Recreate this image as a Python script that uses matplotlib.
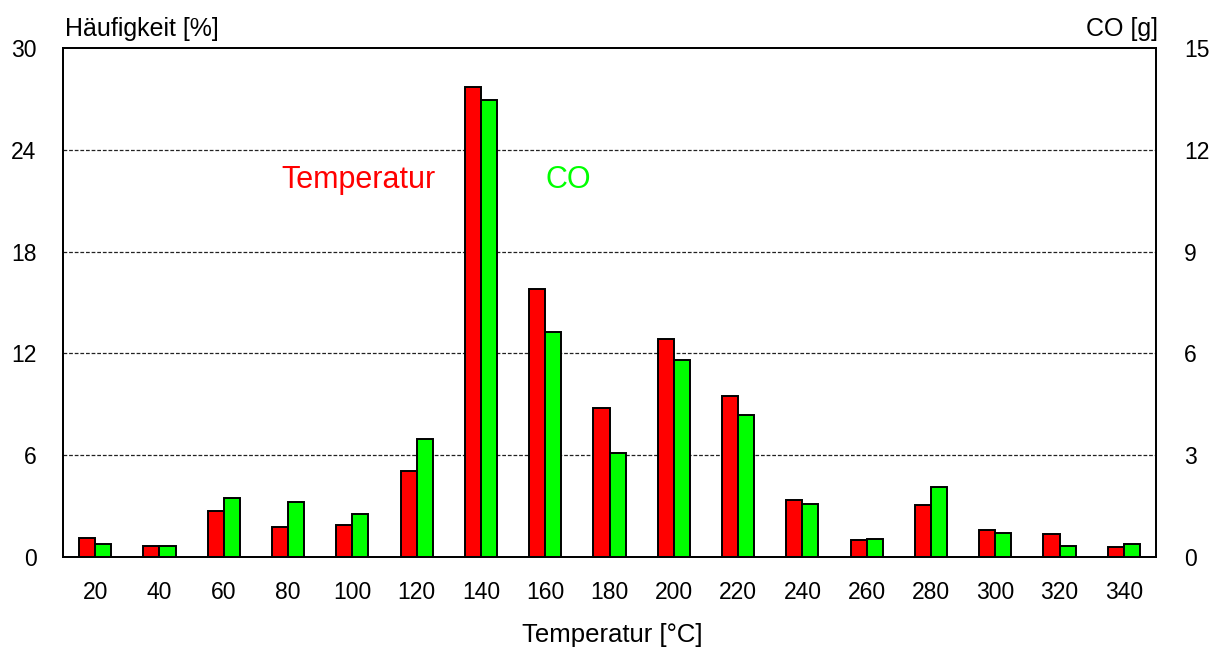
import matplotlib
matplotlib.use("Agg")
import matplotlib.pyplot as plt
import numpy as np

plt.rcParams['font.family'] = ['Liberation Sans', 'DejaVu Sans']

categories = ["20", "40", "60", "80", "100", "120", "140", "160", "180",
              "200", "220", "240", "260", "280", "300", "320", "340"]
haeufigkeit = [1.12, 0.67, 2.73, 1.79, 1.9, 5.09, 27.7, 15.8, 8.8,
               12.85, 9.49, 3.38, 1.0, 3.05, 1.57, 1.37, 0.59]
co_g = [0.39, 0.33, 1.73, 1.62, 1.28, 3.48, 13.46, 6.63, 3.06,
        5.8, 4.19, 1.55, 0.53, 2.05, 0.71, 0.33, 0.39]

fig = plt.figure(figsize=(12.21, 6.48), dpi=100)
ax = fig.add_axes([63/1221, 1-557/648, (1156-63)/1221, (557-48)/648])
ax2 = ax.twinx()

x = np.arange(len(categories))
w = 0.25
ax.bar(x - w/2, haeufigkeit, width=w, color='#ff0000', edgecolor='black', linewidth=1.4, zorder=3)
ax2.bar(x + w/2, co_g, width=w, color='#00ff00', edgecolor='black', linewidth=1.4, zorder=3)

ax.set_xlim(-0.5, len(categories) - 0.5)
ax.set_ylim(0, 30)
ax2.set_ylim(0, 15)
ax.set_yticks([0, 6, 12, 18, 24, 30])
ax2.set_yticks([0, 3, 6, 9, 12, 15])
ax.set_xticks(x)
ax.set_xticklabels(categories)

ax.set_axisbelow(True)
for yv in [6, 12, 18, 24]:
    ax.axhline(yv, color='#222222', linestyle=(0, (3, 1.5)), linewidth=0.9, zorder=1)

ax.tick_params(axis='both', length=0, labelsize=16.5)
ax.tick_params(axis='y', pad=19)
ax.tick_params(axis='x', pad=17)
ax2.tick_params(axis='y', length=0, labelsize=16.5, pad=20)

for a in (ax, ax2):
    for s in a.spines.values():
        s.set_linewidth(1.3)
        s.set_color('black')

fig.text(65/1221, 1-36/648, "Häufigkeit [%]", fontsize=18, ha='left', va='baseline')
fig.text(1158/1221, 1-36/648, "CO [g]", fontsize=18, ha='right', va='baseline')
fig.text(612/1221, 1-642/648, "Temperatur [°C]", fontsize=18.5, ha='center', va='baseline')

ax.text(358/1221, 1-188/648, "Temperatur", color='#ff0000', fontsize=22,
        ha='center', va='baseline', transform=fig.transFigure)
ax.text(568/1221, 1-188/648, "CO", color='#00ff00', fontsize=22,
        ha='center', va='baseline', transform=fig.transFigure)

fig.savefig("out.png", dpi=100)
